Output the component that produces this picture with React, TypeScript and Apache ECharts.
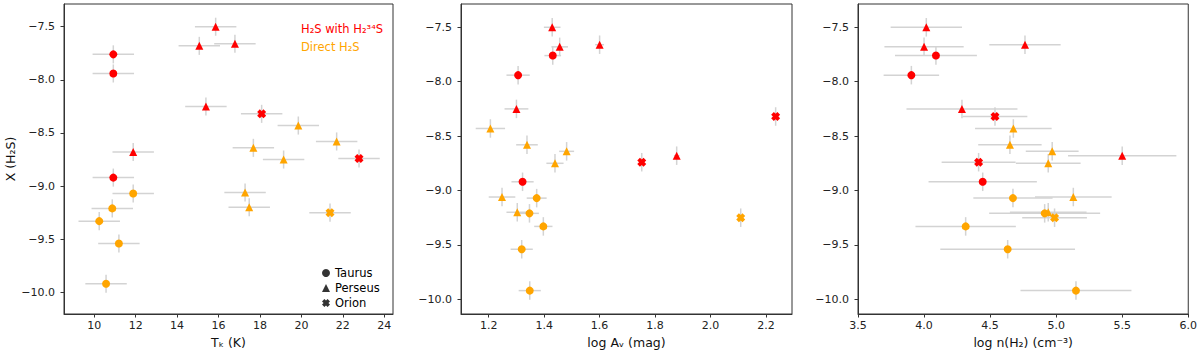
import React, { useEffect, useRef } from "react";
import * as echarts from "echarts";

// ---------------- data (one entry per source) ----------------
const region = ["Perseus", "Perseus", "Perseus", "Taurus", "Taurus", "Perseus", "Orion", "Perseus", "Perseus", "Perseus", "Perseus", "Orion", "Perseus", "Taurus", "Perseus", "Taurus", "Perseus", "Taurus", "Orion", "Taurus", "Taurus", "Taurus"];
const method = ["iso", "iso", "iso", "iso", "iso", "iso", "iso", "direct", "direct", "direct", "iso", "iso", "direct", "iso", "direct", "direct", "direct", "direct", "direct", "direct", "direct", "direct"];
const xH2S = [-7.50, -7.68, -7.66, -7.76, -7.94, -8.25, -8.32, -8.43, -8.58, -8.64, -8.68, -8.74, -8.75, -8.92, -9.06, -9.07, -9.20, -9.21, -9.25, -9.33, -9.54, -9.92];
const xH2SErr = [0.085, 0.085, 0.085, 0.085, 0.085, 0.085, 0.085, 0.085, 0.085, 0.085, 0.085, 0.085, 0.085, 0.085, 0.085, 0.085, 0.085, 0.085, 0.085, 0.085, 0.085, 0.085];
const tk = [15.86, 15.07, 16.79, 10.92, 10.92, 15.39, 18.08, 19.85, 21.70, 17.68, 11.88, 22.78, 19.14, 10.92, 17.28, 11.88, 17.48, 10.87, 21.38, 10.24, 11.19, 10.57];
const tkErr = [1.0, 1.0, 1.0, 1.0, 1.0, 1.0, 1.0, 1.0, 1.0, 1.0, 1.0, 1.0, 1.0, 1.0, 1.0, 1.0, 1.0, 1.0, 1.0, 1.0, 1.0, 1.0];
const logAv = [1.429, 1.456, 1.600, 1.431, 1.306, 1.300, 2.235, 1.206, 1.338, 1.481, 1.878, 1.752, 1.439, 1.322, 1.248, 1.373, 1.303, 1.347, 2.109, 1.397, 1.319, 1.348];
const logAvErr = [0.03, 0.03, 0.016, 0.03, 0.042, 0.043, 0.01, 0.053, 0.039, 0.027, 0.01, 0.01, 0.031, 0.04, 0.048, 0.036, 0.039, 0.034, 0.01, 0.033, 0.04, 0.04];
const logN = [4.017, 4.00, 4.764, 4.09, 3.904, 4.287, 4.537, 4.676, 4.65, 4.97, 5.50, 4.413, 4.94, 4.444, 5.13, 4.673, 4.94, 4.913, 4.988, 4.315, 4.633, 5.15];
const logNErr = [0.27, 0.30, 0.27, 0.31, 0.21, 0.42, 0.245, 0.29, 0.24, 0.2, 0.41, 0.28, 0.245, 0.41, 0.29, 0.3, 0.29, 0.42, 0.245, 0.38, 0.51, 0.42];

const tkTicks = [10, 12, 14, 16, 18, 20, 22, 24];
const avTicks = [1.2, 1.4, 1.6, 1.8, 2.0, 2.2];
const nTicks = [3.5, 4.0, 4.5, 5.0, 5.5, 6.0];
const yTicks = [-7.5, -8.0, -8.5, -9.0, -9.5, -10.0];

const regionNames = ["Taurus", "Perseus", "Orion"];
const methodColors: Record<string, string> = { iso: "#ff0000", direct: "#ffa500" };

// ---------------- styling ----------------
const FONT = "DejaVu Sans";
const XPATH = "path://M3,0 L5,2 L7,0 L10,3 L8,5 L10,7 L7,10 L5,8 L3,10 L0,7 L2,5 L0,3 Z";
const symbolOf: Record<string, string> = { Taurus: "circle", Perseus: "triangle", Orion: XPATH };
const sizeOf: Record<string, number> = { Taurus: 8, Perseus: 8, Orion: 9 };

const fmt = (d: number) => (v: number) => (v < 0 ? "\u2212" : "") + Math.abs(v).toFixed(d);

function xAxisCfg(gridIndex: number, min: number, max: number, ticks: number[], dec: number, name: string) {
  return {
    type: "value", gridIndex, min, max, name,
    nameLocation: "middle", nameGap: 21,
    nameTextStyle: { fontSize: 12.5, color: "#111", fontFamily: FONT },
    axisLine: { show: true, onZero: false, lineStyle: { color: "#333", width: 1 } },
    axisTick: { show: true, length: 3.5, customValues: ticks, lineStyle: { color: "#333" } },
    axisLabel: { customValues: ticks, formatter: fmt(dec), fontSize: 11, color: "#222", margin: 6, fontFamily: FONT },
    splitLine: { show: false },
  };
}
function yAxisCfg(gridIndex: number, min: number, max: number, name: string) {
  return {
    type: "value", gridIndex, min, max, name,
    nameLocation: "middle", nameGap: 47, nameRotate: 90,
    nameTextStyle: { fontSize: 12.5, color: "#111", fontFamily: FONT },
    axisLine: { show: true, onZero: false, lineStyle: { color: "#333", width: 1 } },
    axisTick: { show: true, length: 3.5, customValues: yTicks, lineStyle: { color: "#333" } },
    axisLabel: { customValues: yTicks, formatter: fmt(1), fontSize: 11, color: "#222", margin: 9, fontFamily: FONT },
    splitLine: { show: false },
  };
}

function errSeries(idx: number, xs: number[], xe: number[]) {
  return {
    type: "custom", xAxisIndex: idx, yAxisIndex: idx, z: 1, silent: true,
    encode: { x: 0, y: 1 },
    data: xs.map((x, i) => [x, xH2S[i], xe[i], xH2SErr[i]]),
    renderItem: (params: any, api: any) => {
      const x = api.value(0), y = api.value(1), ex = api.value(2), ey = api.value(3);
      const a = api.coord([x - ex, y]), b = api.coord([x + ex, y]);
      const c = api.coord([x, y - ey]), d = api.coord([x, y + ey]);
      const st = { stroke: "#d3d3d3", lineWidth: 1.5 };
      return {
        type: "group",
        children: [
          { type: "line", shape: { x1: a[0], y1: a[1], x2: b[0], y2: b[1] }, style: st },
          { type: "line", shape: { x1: c[0], y1: c[1], x2: d[0], y2: d[1] }, style: st },
        ],
      };
    },
  };
}
function ptSeries(idx: number, xs: number[]) {
  return {
    type: "scatter", xAxisIndex: idx, yAxisIndex: idx, z: 3, silent: true,
    data: xs.map((x, i) => ({
      value: [x, xH2S[i]],
      symbol: symbolOf[region[i]],
      symbolSize: sizeOf[region[i]],
      itemStyle: { color: methodColors[method[i]], opacity: 1 },
    })),
  };
}

export default function App() {
  const ref = useRef<HTMLDivElement>(null);
  useEffect(() => {
    if (!ref.current) return;
    const chart = echarts.init(ref.current, undefined, { renderer: "svg" });
    const legendSeries = regionNames.map((n) => ({
      type: "scatter", name: n, xAxisIndex: 0, yAxisIndex: 0, data: [],
      symbol: symbolOf[n], itemStyle: { color: "#000" },
    }));
    chart.setOption({
      animation: false,
      backgroundColor: "#fff",
      textStyle: { fontFamily: FONT },
      grid: [
        { left: 64, top: 4, width: 329, height: 310, show: true, borderColor: "#333", borderWidth: 1 },
        { left: 461, top: 4, width: 331, height: 310, show: true, borderColor: "#333", borderWidth: 1 },
        { left: 858, top: 4, width: 331, height: 310, show: true, borderColor: "#333", borderWidth: 1 },
      ],
      xAxis: [
        xAxisCfg(0, 8.54, 24.42, tkTicks, 0, "T\u2096 (K)"),
        xAxisCfg(1, 1.1, 2.294, avTicks, 1, "log A\u1d65 (mag)"),
        xAxisCfg(2, 3.5, 6.0, nTicks, 1, "log n(H\u2082) (cm\u207b\u00b3)"),
      ],
      yAxis: [
        yAxisCfg(0, -10.204, -7.286, "X (H\u2082S)"),
        yAxisCfg(1, -10.135, -7.286, ""),
        yAxisCfg(2, -10.135, -7.286, ""),
      ],
      legend: {
        orient: "vertical", left: 317, top: 261, itemWidth: 8, itemHeight: 8, itemGap: 1,
        textStyle: { fontSize: 11.5, color: "#000", fontFamily: FONT, lineHeight: 14 },
        selectedMode: false,
        data: [
          { name: "Taurus", icon: "circle" },
          { name: "Perseus", icon: "triangle" },
          { name: "Orion", icon: XPATH },
        ],
      },
      graphic: [
        { type: "text", left: 301, top: 23, style: { text: "H\u2082S with H\u2082\u00b3\u2074S", fill: "#ff0000", fontSize: 11.5, fontFamily: FONT } },
        { type: "text", left: 301, top: 41, style: { text: "Direct H\u2082S", fill: "#ffa500", fontSize: 11.5, fontFamily: FONT } },
      ],
      series: [
        errSeries(0, tk, tkErr), errSeries(1, logAv, logAvErr), errSeries(2, logN, logNErr),
        ptSeries(0, tk), ptSeries(1, logAv), ptSeries(2, logN),
        ...legendSeries,
      ],
    });
    return () => chart.dispose();
  }, []);
  return <div ref={ref} style={{ position: "fixed", left: 0, top: 0, width: 1200, height: 355 }} />;
}
